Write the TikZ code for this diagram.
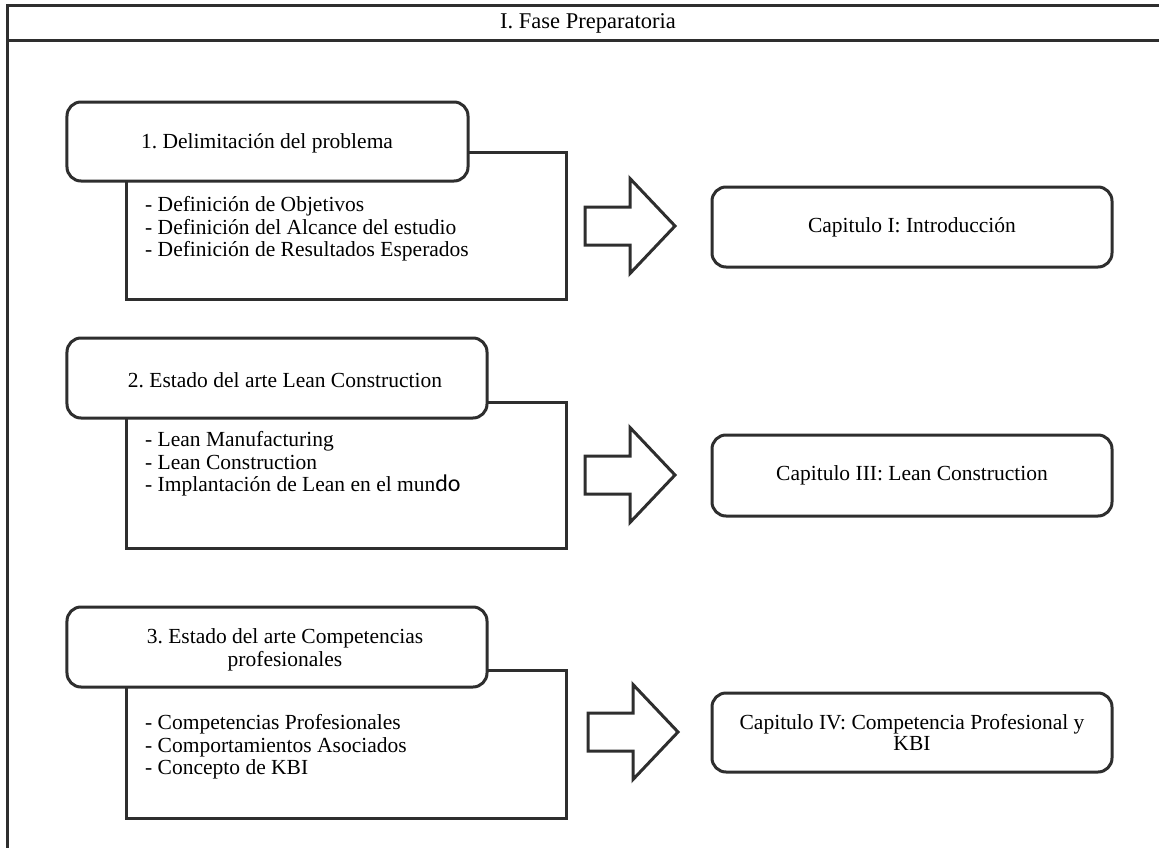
\documentclass[tikz,border=0pt]{standalone}
\usepackage{fontspec}
\setmainfont{Liberation Serif}
\newfontfamily\sansbit{Carlito}
\definecolor{inkgray}{HTML}{2E2E2E}
\frenchspacing
\begin{document}
\begin{tikzpicture}[x=1bp,y=-1bp,
  ink/.style={draw=inkgray, line width=3bp, line join=miter},
  header/.style={ink, fill=white, rounded corners=14bp, inner sep=0pt},
  body/.style={ink, fill=white, inner sep=0pt},
  chapter/.style={ink, fill=white, rounded corners=14bp, inner sep=0pt,
    align=center, font=\fontsize{21.5bp}{21bp}\selectfont},
  label/.style={inner sep=0pt, align=center, font=\fontsize{21.5bp}{22.5bp}\selectfont},
  items/.style={inner sep=0pt, anchor=west, align=left, font=\fontsize{21.5bp}{22.5bp}\selectfont},
  blockarrow/.pic={\draw[ink] (0,-19) -- (45,-19) -- (45,-47.5) -- (90,0)
     -- (45,47.5) -- (45,19) -- (0,19) -- cycle;}
]
\useasboundingbox (0,0) rectangle (1159,848);
\clip (0,0) rectangle (1159,848);

% outer frame with title band
\draw[ink] (7,852) -- (7,5.5) -- (1175,5.5) -- (1175,852);
\draw[ink] (7,40) -- (1175,40);
\node[label, font=\fontsize{22.5bp}{24bp}\selectfont] (title) at (588,23) {I. Fase Preparatoria};

% block 1
\node[body, minimum width=439bp, minimum height=147bp] (b1) at (346.5,225.5) {};
\node[header, minimum width=401bp, minimum height=79bp] (h1) at (267.5,141.5) {};
\node[label] (t1) at (267,143) {1. Delimitación del problema};
\node[items] (l1) at (145,229) {- Definición de Objetivos\\- Definición del Alcance del estudio\\- Definición de Resultados Esperados};

% block 2
\node[body, minimum width=439bp, minimum height=146bp] (b2) at (346.5,475) {};
\node[header, minimum width=420bp, minimum height=80bp] (h2) at (277,378) {};
\node[label] (t2) at (285,380) {2. Estado del arte Lean Construction};
\node[items] (l2) at (145,464) {- Lean Manufacturing\\- Lean Construction\\- Implantación de Lean en el mun{\sansbit\fontsize{24bp}{22.5bp}\selectfont do}};

% block 3
\node[body, minimum width=439bp, minimum height=148bp] (b3) at (346.5,744) {};
\node[header, minimum width=420bp, minimum height=80bp] (h3) at (277,647) {};
\node[label] (t3) at (285,650) {3. Estado del arte Competencias\\profesionales};
\node[items] (l3) at (145,747) {- Competencias Profesionales\\- Comportamientos Asociados\\- Concepto de KBI};

% chapters
\node[chapter, minimum width=400bp, minimum height=80bp] (c1) at (912,227) {Capitulo I: Introducción};
\node[chapter, minimum width=400bp, minimum height=81bp] (c3) at (912,475.5) {Capitulo III: Lean Construction};
\node[chapter, minimum width=400bp, minimum height=79bp] (c4) at (912,732.5) {Capitulo IV: Competencia Profesional y\\KBI};

% block arrows
\pic at (585,226) {blockarrow};
\pic at (585,475) {blockarrow};
\pic at (588,732) {blockarrow};
\end{tikzpicture}
\end{document}
